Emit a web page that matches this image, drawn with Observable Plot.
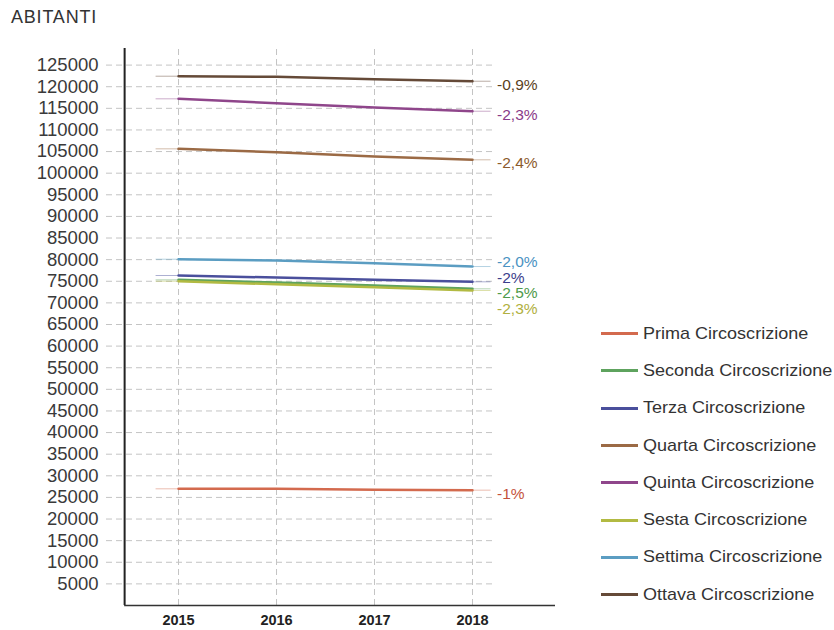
<!DOCTYPE html>
<html>
<head>
<meta charset="utf-8">
<script src="https://cdn.jsdelivr.net/npm/d3@7"></script>
<script src="https://cdn.jsdelivr.net/npm/@observablehq/plot@0.6"></script>
<style>
  html, body { margin: 0; padding: 0; background: #fff; }
  body { width: 834px; height: 630px; position: relative; overflow: hidden; font-family: "Liberation Sans", Arial, sans-serif; }
  #title { position: absolute; left: 11px; top: 7px; font-size: 18px; color: #333; letter-spacing: 0.8px; }
  #chart { position: absolute; left: 0; top: 0; }
  #legend { position: absolute; left: 601px; top: 315px; }
  .item { height: 37.3px; display: flex; align-items: center; font-size: 17px; color: #333; white-space: nowrap; }
  .item span { display: inline-block; transform: scaleX(1.06); transform-origin: left center; }
  .sw { width: 37px; height: 3px; margin-right: 5px; }
</style>
</head>
<body>
<div id="title">ABITANTI</div>
<div id="chart"></div>
<div id="legend"></div>
<script>
const years = [2015, 2016, 2017, 2018];
const districts = [
  "Prima Circoscrizione", "Seconda Circoscrizione", "Terza Circoscrizione", "Quarta Circoscrizione",
  "Quinta Circoscrizione", "Sesta Circoscrizione", "Settima Circoscrizione", "Ottava Circoscrizione"
];
const prima   = [26990, 26980, 26800, 26680];
const seconda = [75330, 74700, 74000, 73250];
const terza   = [76330, 75850, 75350, 74870];
const quarta  = [105630, 104850, 103850, 103090];
const quinta  = [117200, 116200, 115200, 114330];
const sesta   = [75010, 74300, 73600, 72860];
const settima = [80100, 79800, 79150, 78410];
const ottava  = [122430, 122300, 121700, 121270];
const changeLabels = ["-1%", "-2,5%", "-2%", "-2,4%", "-2,3%", "-2,3%", "-2,0%", "-0,9%"];
const yTicks = [5000, 10000, 15000, 20000, 25000, 30000, 35000, 40000, 45000, 50000, 55000, 60000,
  65000, 70000, 75000, 80000, 85000, 90000, 95000, 100000, 105000, 110000, 115000, 120000, 125000];

const lineColors  = ["#d36a4e", "#5ea35e", "#4a4f9c", "#9b6a45", "#8f468b", "#b2ba42", "#5b9dc2", "#654a38"];
const labelColors = ["#c4523b", "#4e9a4a", "#3c3e8c", "#8b5a2b", "#8a3a88", "#b0b040", "#4a92c2", "#5a3f22"];

const series = [prima, seconda, terza, quarta, quinta, sesta, settima, ottava];
const rows = [];
series.forEach((vals, i) => vals.forEach((v, j) => rows.push({district: districts[i], year: years[j], value: v})));

// geometry of the plot
const W = 560, H = 630, mL = 106, mR = 5, mT = 48, mB = 25;
const xDomain = [2014.265, 2018.847];
const yMax = 128840;
const axisYear = 2014.45, gridEnd = 2018.23, extLeft = 2014.77, extRight = 2018.18;

// faint extensions beyond first/last year
const extRows = [];
series.forEach((vals, i) => {
  extRows.push({district: districts[i], seg: "a", year: extLeft, value: vals[0]});
  extRows.push({district: districts[i], seg: "a", year: years[0], value: vals[0]});
  extRows.push({district: districts[i], seg: "b", year: years[3], value: vals[3]});
  extRows.push({district: districts[i], seg: "b", year: extRight, value: vals[3]});
});

// end labels with simple collision avoidance (in pixel space)
const py = v => mT + (1 - v / yMax) * (H - mT - mB);
const pv = p => (1 - (p - mT) / (H - mT - mB)) * yMax;
const gap = 15.5;
let labs = series.map((vals, i) => ({i, target: py(vals[3]), district: districts[i], text: changeLabels[i]}))
  .sort((a, b) => a.target - b.target);
let clusters = labs.map(l => ({items: [l], pos: l.target}));
let changed = true;
while (changed) {
  changed = false;
  for (let k = 1; k < clusters.length; k++) {
    const a = clusters[k - 1], b = clusters[k];
    const aEnd = a.pos + (a.items.length - 1) * gap;
    if (b.pos < aEnd + gap) {
      const items = a.items.concat(b.items);
      const mean = d3.mean(items, d => d.target);
      const pos = mean - (items.length - 1) * gap / 2;
      clusters.splice(k - 1, 2, {items, pos});
      changed = true;
      break;
    }
  }
}
const labelRows = [];
clusters.forEach(c => c.items.forEach((it, k) => labelRows.push({district: it.district, text: it.text, value: pv(c.pos + k * gap)})));

const color = {domain: districts, range: lineColors};

const chart = Plot.plot({
  width: W, height: H, marginLeft: mL, marginRight: mR, marginTop: mT, marginBottom: mB,
  style: {fontFamily: "'Liberation Sans', Arial, sans-serif", background: "transparent", color: "#333"},
  x: {domain: xDomain},
  y: {domain: [0, yMax]},
  color,
  marks: [
    Plot.ruleY(yTicks, {x1: xDomain[0], x2: gridEnd, stroke: "#c4c4c4", strokeDasharray: "6,4", strokeWidth: 1}),
    Plot.ruleX(years, {y1: 0, y2: yMax, stroke: "#c4c4c4", strokeDasharray: "6,4", strokeWidth: 1}),
    Plot.axisY({ticks: yTicks, tickSize: 0, tickPadding: 8, fontSize: 18.5, tickFormat: d => String(d), label: null, fill: "#3a3a3a"}),
    Plot.axisX({ticks: years, tickSize: 0, tickPadding: 9, fontSize: 14.5, fontWeight: "bold", tickFormat: d => String(d), label: null, fill: "#222"}),
    Plot.ruleX([axisYear], {y1: 0, y2: yMax, stroke: "#222", strokeWidth: 2}),
    Plot.ruleY([0], {x1: axisYear, x2: xDomain[1], stroke: "#333", strokeWidth: 1.5}),
    Plot.line(extRows, {x: "year", y: "value", z: d => d.district + d.seg, stroke: "district", strokeWidth: 1, strokeOpacity: 0.45}),
    Plot.line(rows, {x: "year", y: "value", z: "district", stroke: "district", strokeWidth: 2.5}),
    Plot.text(labelRows, {x: gridEnd, y: "value", text: "text", textAnchor: "start", dx: 2, dy: 3.5, fontSize: 15.5,
      fill: d => labelColors[districts.indexOf(d.district)]})
  ]
});
document.getElementById("chart").appendChild(chart);

const legend = document.getElementById("legend");
districts.forEach((d, i) => {
  const row = document.createElement("div");
  row.className = "item";
  const sw = document.createElement("div");
  sw.className = "sw";
  sw.style.background = lineColors[i];
  const t = document.createElement("span");
  t.textContent = d;
  row.appendChild(sw);
  row.appendChild(t);
  legend.appendChild(row);
});
</script>
</body>
</html>
